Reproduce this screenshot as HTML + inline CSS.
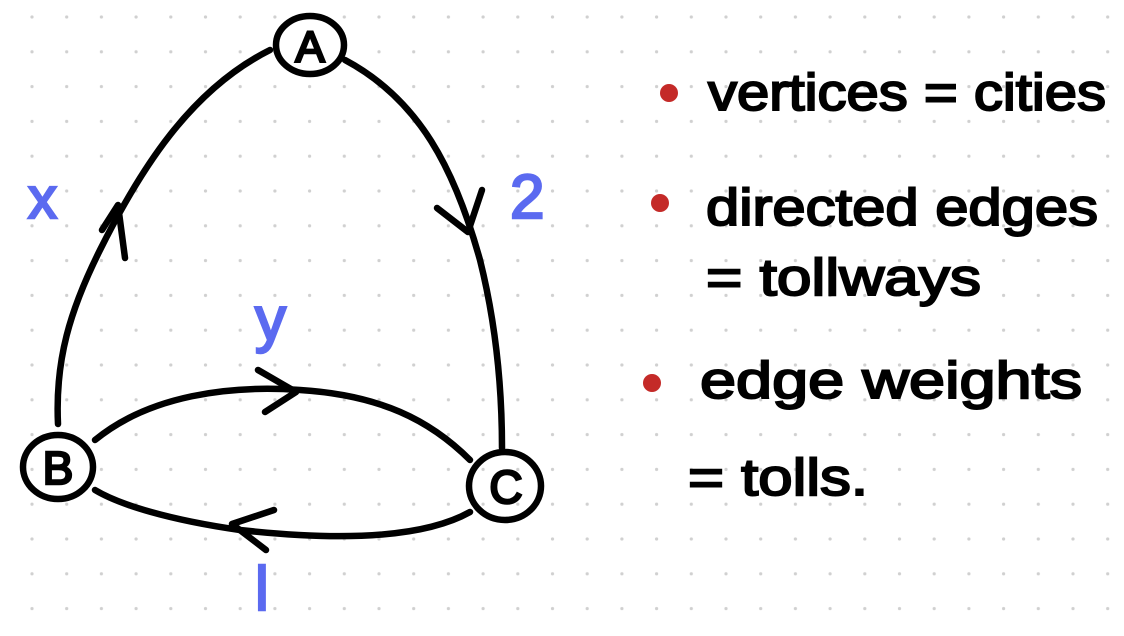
<!DOCTYPE html>
<html><head><meta charset="utf-8"><style>
html,body{margin:0;padding:0;background:#fff;}
svg{display:block;}
</style></head><body>
<svg width="1124" height="636" viewBox="0 0 1124 636" xmlns="http://www.w3.org/2000/svg">
<defs>
<pattern id="dots" x="14.6" y="-0.4" width="34.7" height="34.8" patternUnits="userSpaceOnUse">
<circle cx="17.4" cy="17.4" r="1.6" fill="#d0d0d0"/>
</pattern>
</defs>
<rect width="1124" height="636" fill="url(#dots)"/>
<g fill="none" stroke="#000" stroke-width="6.5" stroke-linecap="round" stroke-linejoin="round">
<path d="M58 424 C55 360 70 310 100 250 C140 170 190 90 270 50"/>
<path d="M102 230 L118 205 L125 258"/>
<path d="M345 60 C420 100 455 170 480 260 C495 320 502 380 502 448"/>
<path d="M437 208 L468 232 L482 190"/>
<path d="M95 440 C150 395 230 385 300 390 C380 395 430 420 470 460"/>
<path d="M258 370 L296 392 L265 412"/>
<path d="M470 512 C420 540 330 540 240 530 C170 520 120 505 95 490"/>
<path d="M274 510 L232 524 L266 550"/>
<ellipse cx="310" cy="45" rx="34" ry="29"/>
<ellipse cx="58" cy="467" rx="35" ry="32"/>
<ellipse cx="505" cy="486" rx="36" ry="34"/>
</g>
<g font-family="Liberation Sans, sans-serif" fill="#000" stroke="#000" stroke-width="2.5">
<text x="310" y="62" font-size="44" text-anchor="middle">A</text>
<text x="58" y="484" font-size="46" text-anchor="middle">B</text>
<text x="506" y="503" font-size="46" text-anchor="middle">C</text>
</g>
<g font-family="Liberation Sans, sans-serif" fill="#5b6af0" stroke="#5b6af0" stroke-width="2.5">
<text x="28" y="218" font-size="58">x</text>
<text x="510" y="218" font-size="62">2</text>
<text x="255" y="340" font-size="62">y</text>
<text x="255" y="610" font-size="62">l</text>
</g>
<g fill="#c42a28">
<circle cx="669" cy="93" r="9"/>
<circle cx="660" cy="203" r="9"/>
<circle cx="652" cy="383" r="9"/>
</g>
<g font-family="Liberation Sans, sans-serif" fill="#000" stroke="#000" stroke-width="2" font-size="52">
<text x="708" y="110" textLength="398" lengthAdjust="spacingAndGlyphs">vertices = cities</text>
<text x="706" y="225" textLength="392" lengthAdjust="spacingAndGlyphs">directed  edges</text>
<text x="706" y="295" textLength="275" lengthAdjust="spacingAndGlyphs">= tollways</text>
<text x="700" y="398" textLength="382" lengthAdjust="spacingAndGlyphs">edge  weights</text>
<text x="688" y="495" textLength="180" lengthAdjust="spacingAndGlyphs">= tolls.</text>
</g>
</svg>
</body></html>
